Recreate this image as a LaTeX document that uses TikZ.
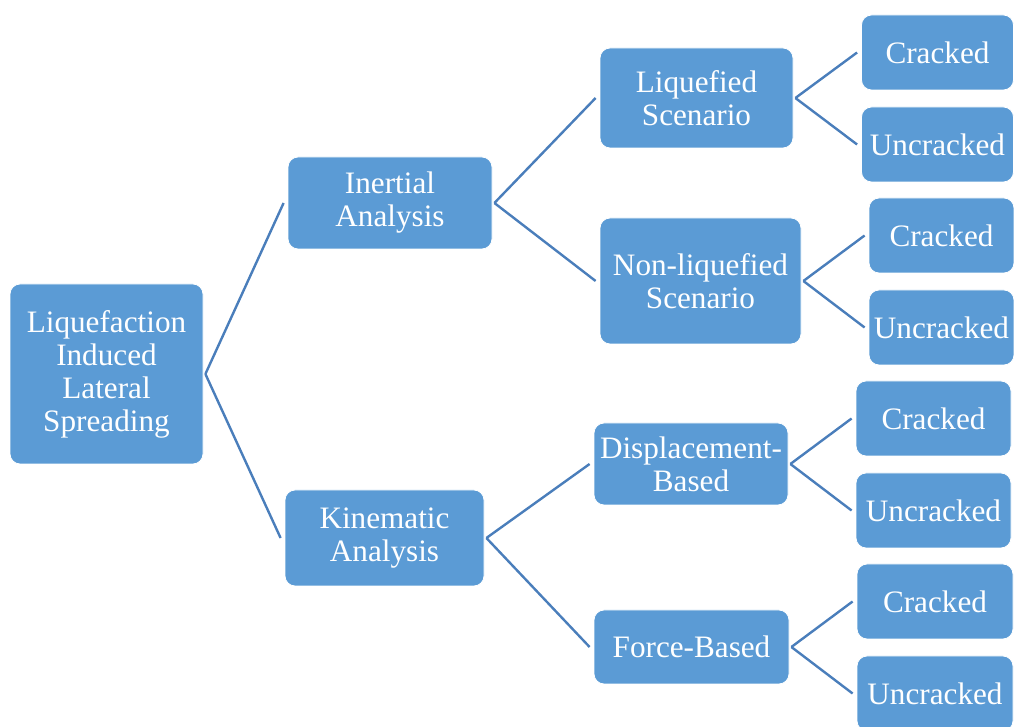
\documentclass[tikz,border=0pt]{standalone}
\usepackage{fontspec}
\setmainfont{Liberation Serif}
\usepackage{tikz}
\definecolor{boxblue}{HTML}{5B9BD5}
\definecolor{linkblue}{HTML}{4A7EBB}

\begin{document}
\begin{tikzpicture}[
  x=0.5pt, y=-0.5pt,
  box/.style={draw=white, line width=0.4pt, fill=boxblue, rounded corners=5pt, inner sep=0pt, text=white, font=\fontsize{15.6}{16.5}\selectfont, align=center},
  link/.style={draw=linkblue, line width=1.2pt}
]
  \useasboundingbox (0,0) rectangle (1014,727);
  % level 0 and 1
  \node[box, minimum width=96.5pt, minimum height=90pt] (root) at (106.5,374) {Liquefaction\\Induced\\Lateral\\Spreading};
  \node[box, minimum width=102pt, minimum height=46pt] (inert) at (390,203) {Inertial\\Analysis};
  \node[box, minimum width=99.5pt, minimum height=48pt] (kine) at (384.5,538) {Kinematic\\Analysis};
  % level 2
  \node[box, minimum width=96.5pt, minimum height=50pt] (liq) at (696.5,98) {Liquefied\\Scenario};
  \node[box, minimum width=100.5pt, minimum height=63pt] (nonliq) at (700.5,281) {Non-liquefied\\Scenario};
  \node[box, minimum width=97pt, minimum height=41pt] (disp) at (691,464) {Displacement-\\Based};
  \node[box, minimum width=97.5pt, minimum height=37pt] (force) at (691.5,647) {Force-Based};
  % level 3
  \node[box, minimum width=76pt, minimum height=37.5pt] (liqc) at (937.5,52.5) {Cracked};
  \node[box, minimum width=76pt, minimum height=37.5pt] (liqu) at (937.5,144.5) {Uncracked};
  \node[box, minimum width=72.5pt, minimum height=37.5pt] (nonc) at (941.5,235.5) {Cracked};
  \node[box, minimum width=72.5pt, minimum height=37.5pt] (nonu) at (941.5,327.5) {Uncracked};
  \node[box, minimum width=77.5pt, minimum height=37.5pt] (dispc) at (933.5,418.5) {Cracked};
  \node[box, minimum width=77.5pt, minimum height=37.5pt] (dispu) at (933.5,510.5) {Uncracked};
  \node[box, minimum width=78pt, minimum height=37.5pt] (forcec) at (935,601.5) {Cracked};
  \node[box, minimum width=78pt, minimum height=37.5pt] (forceu) at (935,693.5) {Uncracked};

  \foreach \a/\b in {root/inert, root/kine, inert/liq, inert/nonliq, kine/disp, kine/force,
    liq/liqc, liq/liqu, nonliq/nonc, nonliq/nonu, disp/dispc, disp/dispu, force/forcec, force/forceu}
    \draw[link] ([xshift=1pt]\a.east) -- ([xshift=-2pt]\b.west);
\end{tikzpicture}
\end{document}
